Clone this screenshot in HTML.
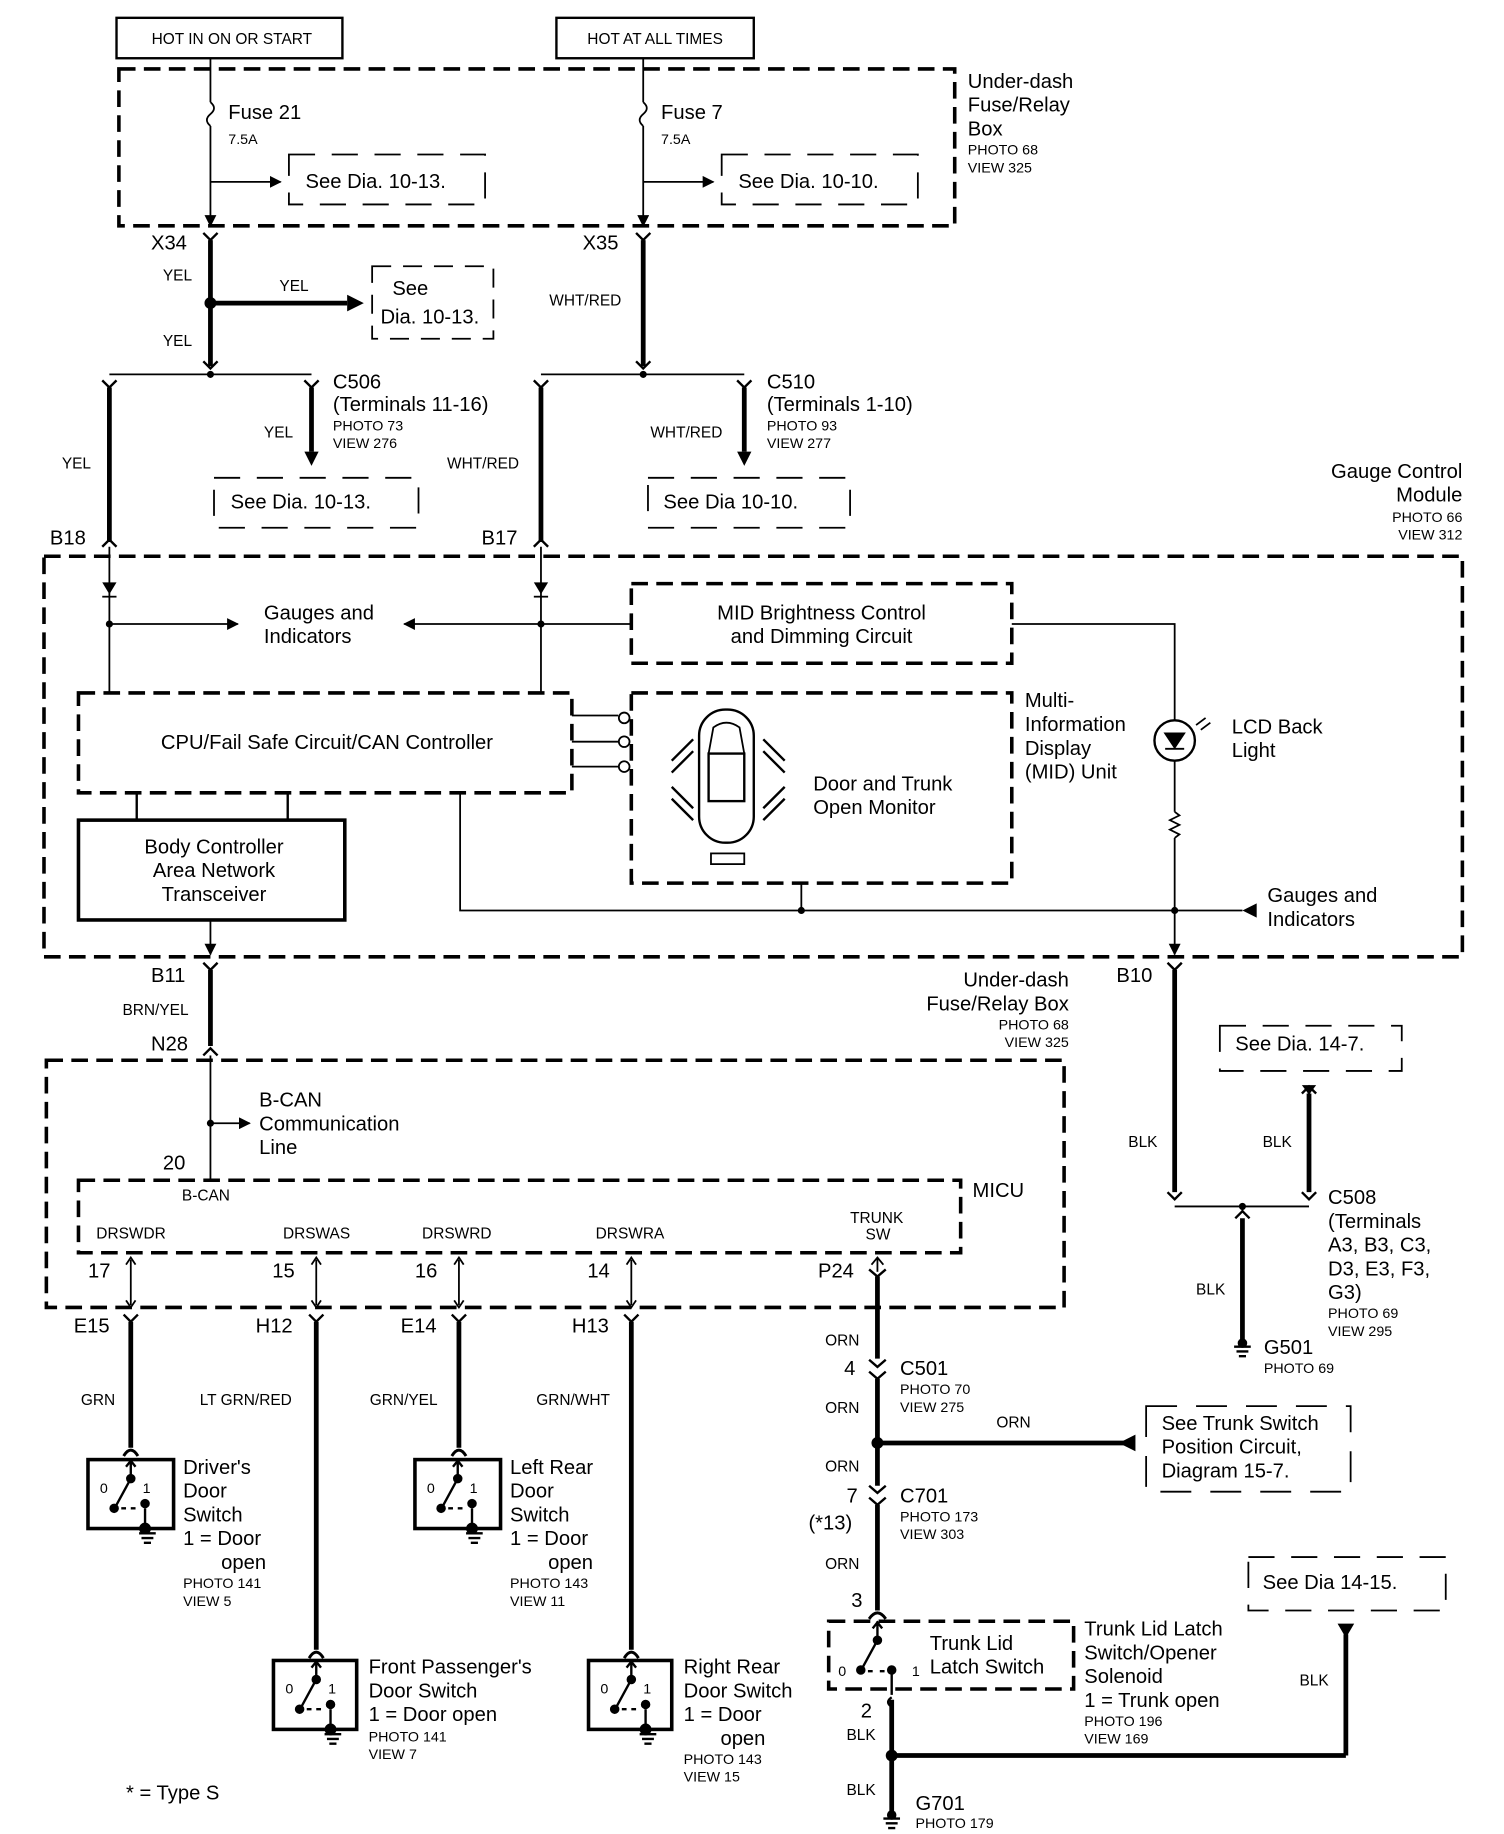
<!DOCTYPE html>
<html><head><style>
html,body{margin:0;padding:0;background:#fff;}
svg{display:block;}
text{font-family:"Liberation Sans",Arial,sans-serif;fill:#000;}
.b{font-size:17px;}
.s{font-size:13px;}
.xs{font-size:12px;}
</style></head><body>
<svg width="1504" height="1834" viewBox="0 0 1265 1543" preserveAspectRatio="none" xmlns="http://www.w3.org/2000/svg">
<defs>
<marker id="ar" markerWidth="10" markerHeight="10" refX="9" refY="5" orient="auto" markerUnits="userSpaceOnUse"><path d="M0,0 L10,5 L0,10z"/></marker>
<marker id="arb" markerWidth="14" markerHeight="14" refX="13" refY="7" orient="auto" markerUnits="userSpaceOnUse"><path d="M0,0 L14,7 L0,14z"/></marker>
</defs>
<g stroke="#000" fill="none" stroke-width="1.5">
<!-- top boxes -->
<rect x="98" y="15" width="190" height="34" stroke-width="2"/>
<rect x="468" y="15" width="166" height="34" stroke-width="2"/>
<rect x="100" y="58" width="703" height="132" stroke-width="3" stroke-dasharray="14,7"/>
<!-- fuse lines -->
<line x1="177" y1="49" x2="177" y2="86"/><path d="M177,86 q6,5 0,10 q-6,5 0,10"/><line x1="177" y1="106" x2="177" y2="190" marker-end="url(#ar)"/>
<line x1="541" y1="49" x2="541" y2="86"/><path d="M541,86 q6,5 0,10 q-6,5 0,10"/><line x1="541" y1="106" x2="541" y2="190" marker-end="url(#ar)"/>
<line x1="177" y1="153" x2="236" y2="153" marker-end="url(#ar)"/>
<line x1="541" y1="153" x2="600" y2="153" marker-end="url(#ar)"/>
<path d="M243,130 h165 v42 h-165z" stroke-dasharray="22,14"/>
<path d="M607,130 h165 v42 h-165z" stroke-dasharray="22,14"/>
<!-- X34/X35 thick -->
<path d="M171,196 l6,6 l6,-6" stroke-width="2"/><path d="M535,196 l6,6 l6,-6" stroke-width="2"/>
<line x1="177" y1="202" x2="177" y2="308" stroke-width="4"/>
<line x1="541" y1="202" x2="541" y2="308" stroke-width="4"/>
<path d="M171,304 l6,6 l6,-6" stroke-width="2"/><path d="M535,304 l6,6 l6,-6" stroke-width="2"/>
<line x1="177" y1="255" x2="292" y2="255" stroke-width="4"/>
<path d="M313,224 h102 v61 h-102z" stroke-dasharray="16,10"/>
<line x1="92" y1="315" x2="262" y2="315"/>
<line x1="455" y1="315" x2="626" y2="315"/>
<path d="M86,320 l6,6 l6,-6" stroke-width="2"/><path d="M256,320 l6,6 l6,-6" stroke-width="2"/>
<path d="M449,320 l6,6 l6,-6" stroke-width="2"/><path d="M620,320 l6,6 l6,-6" stroke-width="2"/>
<line x1="92" y1="326" x2="92" y2="456" stroke-width="4"/>
<line x1="455" y1="326" x2="455" y2="456" stroke-width="4"/>
<line x1="262" y1="326" x2="262" y2="380" stroke-width="4"/>
<line x1="626" y1="326" x2="626" y2="380" stroke-width="4"/>
<path d="M180,402 h172 v42 h-172z" stroke-dasharray="22,14"/>
<path d="M545,402 h170 v42 h-170z" stroke-dasharray="22,14"/>
<path d="M86,460 l6,-6 l6,6" stroke-width="2"/><path d="M449,460 l6,-6 l6,6" stroke-width="2"/>
<!-- gauge module -->
<rect x="37" y="468" width="1193" height="337" stroke-width="3" stroke-dasharray="14,7"/>
<line x1="92" y1="460" x2="92" y2="582"/>
<line x1="455" y1="460" x2="455" y2="582"/>
<line x1="86" y1="502" x2="98" y2="502"/><line x1="449" y1="502" x2="461" y2="502"/>
<line x1="92" y1="525" x2="200" y2="525" marker-end="url(#ar)"/>
<line x1="530" y1="525" x2="340" y2="525" marker-end="url(#ar)"/>
<rect x="531" y="491" width="320" height="67" stroke-width="3" stroke-dasharray="14,7"/>
<rect x="66" y="583" width="415" height="84" stroke-width="3" stroke-dasharray="14,7"/>
<rect x="531" y="583" width="320" height="160" stroke-width="3" stroke-dasharray="14,7"/>
<line x1="481" y1="602" x2="520" y2="602"/><line x1="481" y1="624" x2="520" y2="624"/><line x1="481" y1="645" x2="520" y2="645"/>
<circle cx="525" cy="604" r="4.5"/><circle cx="525" cy="624" r="4.5"/><circle cx="525" cy="645" r="4.5"/>
<rect x="66" y="690" width="224" height="84" stroke-width="3"/>
<line x1="115" y1="667" x2="115" y2="690" stroke-width="2"/><line x1="242" y1="667" x2="242" y2="690" stroke-width="2"/>
<line x1="177" y1="774" x2="177" y2="803" marker-end="url(#ar)"/>
<polyline points="387,667 387,766 1045,766"/>
<line x1="674" y1="743" x2="674" y2="766"/>
<polyline points="851,525 988,525 988,606"/>
<circle cx="988" cy="623" r="17" stroke-width="2"/>
<path d="M980,617 h16 l-8,12z" fill="#000"/><line x1="980" y1="630" x2="996" y2="630"/>
<line x1="988" y1="640" x2="988" y2="683"/>
<path d="M988,683 l4,3 l-8,4 l8,4 l-8,4 l8,4 l-4,3"/>
<line x1="988" y1="705" x2="988" y2="803" marker-end="url(#ar)"/>
<line x1="1060" y1="766" x2="1046" y2="766" stroke-width="0"/>
<!-- car -->
<rect x="588" y="597" width="46" height="112" rx="22" stroke-width="2"/>
<rect x="596" y="634" width="30" height="40" stroke-width="2"/>
<path d="M600,612 q11,-8 22,0 l4,22 h-30z" stroke-width="1.5"/>
<rect x="598" y="718" width="28" height="9" stroke-width="1.5"/>
<path d="M565,640 l18,-18 M565,650 l18,-18 M565,662 l18,18 M565,672 l18,18 M660,640 l-18,-18 M660,650 l-18,-18 M660,662 l-18,18 M660,672 l-18,18" stroke-width="2"/>
<!-- B11 -->
<path d="M171,810 l6,6 l6,-6" stroke-width="2"/>
<line x1="177" y1="816" x2="177" y2="880" stroke-width="4"/>
<path d="M171,888 l6,-6 l6,6" stroke-width="2"/>
<line x1="177" y1="888" x2="177" y2="993"/>
<line x1="177" y1="945" x2="210" y2="945" marker-end="url(#ar)"/>
<rect x="39" y="892" width="856" height="208" stroke-width="3" stroke-dasharray="14,7"/>
<rect x="66" y="993" width="742" height="61" stroke-width="3" stroke-dasharray="14,7"/>
<!-- MICU pins -->
<g>
<line x1="110" y1="1060" x2="110" y2="1098"/><line x1="266" y1="1060" x2="266" y2="1098"/><line x1="386" y1="1060" x2="386" y2="1098"/><line x1="531" y1="1060" x2="531" y2="1098"/>
<path d="M106,1064 l4,-6 l4,6 M106,1094 l4,6 l4,-6 M262,1064 l4,-6 l4,6 M262,1094 l4,6 l4,-6 M382,1064 l4,-6 l4,6 M382,1094 l4,6 l4,-6 M527,1064 l4,-6 l4,6 M527,1094 l4,6 l4,-6"/>
</g>
<path d="M104,1106 l6,6 l6,-6 M260,1106 l6,6 l6,-6 M380,1106 l6,6 l6,-6 M525,1106 l6,6 l6,-6" stroke-width="2"/>
<line x1="110" y1="1112" x2="110" y2="1218" stroke-width="4"/>
<line x1="266" y1="1112" x2="266" y2="1388" stroke-width="4"/>
<line x1="386" y1="1112" x2="386" y2="1218" stroke-width="4"/>
<line x1="531" y1="1112" x2="531" y2="1388" stroke-width="4"/>
<path d="M104,1225 q6,-10 12,0 M260,1395 q6,-10 12,0 M380,1225 q6,-10 12,0 M525,1395 q6,-10 12,0" stroke-width="2.5"/>
<!-- switch boxes -->
<rect x="74" y="1228" width="72" height="58" stroke-width="3"/>
<rect x="349" y="1228" width="72" height="58" stroke-width="3"/>
<rect x="230" y="1397" width="70" height="58" stroke-width="3"/>
<rect x="495" y="1397" width="70" height="58" stroke-width="3"/>
<!-- P24 trunk line -->
<path d="M733,1064 l5,-6 l5,6"/>
<line x1="738" y1="1058" x2="738" y2="1070"/>
<path d="M731,1068 l7,6 l7,-6" stroke-width="2"/>
<line x1="738" y1="1074" x2="738" y2="1143" stroke-width="4"/>
<path d="M731,1144 l7,6 l7,-6 M731,1154 l7,6 l7,-6" stroke-width="2"/>
<line x1="738" y1="1160" x2="738" y2="1250" stroke-width="4"/>
<line x1="738" y1="1214" x2="945" y2="1214" stroke-width="4"/>
<path d="M731,1250 l7,6 l7,-6 M731,1260 l7,6 l7,-6" stroke-width="2"/>
<line x1="738" y1="1266" x2="738" y2="1355" stroke-width="4"/>
<path d="M731,1362 q7,-10 14,0" stroke-width="2.5"/>
<rect x="697" y="1364" width="206" height="57" stroke-width="3" stroke-dasharray="14,7"/>
<path d="M964,1183 h172 v72 h-172z" stroke-dasharray="26,16"/>
<path d="M750,1428 q-6,4 0,8" stroke-width="2"/>
<line x1="750" y1="1430" x2="750" y2="1525" stroke-width="4"/>
<line x1="750" y1="1477" x2="1132" y2="1477" stroke-width="4"/>
<line x1="1132" y1="1477" x2="1132" y2="1375" stroke-width="4"/>
<path d="M1050,1310 h166 v45 h-166z" stroke-dasharray="22,14"/>
<!-- B10 -->
<path d="M982,810 l6,6 l6,-6" stroke-width="2"/>
<line x1="988" y1="816" x2="988" y2="1003" stroke-width="4"/>
<path d="M982,1003 l6,6 l6,-6 M1095,1003 l6,6 l6,-6" stroke-width="2"/>
<line x1="988" y1="1015" x2="1101" y2="1015"/>
<line x1="1101" y1="920" x2="1101" y2="1003" stroke-width="4"/>
<path d="M1095,920 l6,-6 l6,6" stroke-width="2"/>
<path d="M1039,1025 l6,-6 l6,6" stroke-width="2"/>
<line x1="1045" y1="1015" x2="1045" y2="1019"/>
<line x1="1045" y1="1025" x2="1045" y2="1128" stroke-width="4"/>
<path d="M1026,863 h153 v38 h-153z" stroke-dasharray="22,14"/>
<!-- grounds -->
<path d="M1038,1133 h14 M1040,1137 h10 M1042,1141 h6 M743,1530 h14 M745,1534 h10 M747,1538 h6 M117,1290 h14 M119,1294 h10 M121,1298 h6 M392,1290 h14 M394,1294 h10 M396,1298 h6 M273,1459 h14 M275,1463 h10 M277,1467 h6 M538,1459 h14 M540,1463 h10 M542,1467 h6" stroke-width="2"/>
</g>
<!-- filled shapes -->
<g fill="#000">
<circle cx="177" cy="255" r="5"/><path d="M292,248 l14,7 l-14,7z"/>
<path d="M256,380 h12 l-6,12z"/><path d="M620,380 h12 l-6,12z"/>
<circle cx="177" cy="315" r="3"/><circle cx="541" cy="315" r="3"/>
<path d="M86,490 h12 l-6,10z"/><path d="M449,490 h12 l-6,10z"/>
<circle cx="92" cy="525" r="3"/><circle cx="455" cy="525" r="3"/>
<circle cx="674" cy="766" r="3"/><circle cx="988" cy="766" r="3"/>
<path d="M1045,766 l12,-6 v12z"/>
<circle cx="177" cy="945" r="3"/>
<circle cx="738" cy="1214" r="5"/><path d="M955,1207 l-14,7 l14,7z"/>
<circle cx="750" cy="1477" r="5"/><path d="M1125,1366 h14 l-7,12z"/>
<path d="M1095,913 h12 l-6,8z"/>
<circle cx="1045" cy="1015" r="3"/><circle cx="1045" cy="1130" r="4"/><circle cx="750" cy="1527" r="4"/>
</g>
<!-- switch internals -->
<g stroke="#000" fill="none" stroke-width="2">
<g transform="translate(74,1228)"><path d="M36,0 v16 M32,6 l4,-5 l4,5 M36,16 l-12,22 M28,41 h4 M36,41 h4 M48,41 v17"/><circle cx="36" cy="16" r="3" fill="#000"/><circle cx="22" cy="41" r="3" fill="#000"/><circle cx="48" cy="37" r="3" fill="#000"/><circle cx="48" cy="58" r="4" fill="#000"/></g>
<g transform="translate(349,1228)"><path d="M36,0 v16 M32,6 l4,-5 l4,5 M36,16 l-12,22 M28,41 h4 M36,41 h4 M48,41 v17"/><circle cx="36" cy="16" r="3" fill="#000"/><circle cx="22" cy="41" r="3" fill="#000"/><circle cx="48" cy="37" r="3" fill="#000"/><circle cx="48" cy="58" r="4" fill="#000"/></g>
<g transform="translate(230,1397)"><path d="M36,0 v16 M32,6 l4,-5 l4,5 M36,16 l-12,22 M28,41 h4 M36,41 h4 M48,41 v17"/><circle cx="36" cy="16" r="3" fill="#000"/><circle cx="22" cy="41" r="3" fill="#000"/><circle cx="48" cy="37" r="3" fill="#000"/><circle cx="48" cy="58" r="4" fill="#000"/></g>
<g transform="translate(495,1397)"><path d="M36,0 v16 M32,6 l4,-5 l4,5 M36,16 l-12,22 M28,41 h4 M36,41 h4 M48,41 v17"/><circle cx="36" cy="16" r="3" fill="#000"/><circle cx="22" cy="41" r="3" fill="#000"/><circle cx="48" cy="37" r="3" fill="#000"/><circle cx="48" cy="58" r="4" fill="#000"/></g>
<path d="M738,1364 v16 M734,1370 l4,-5 l4,5 M738,1380 l-12,22 M730,1406 h4 M740,1406 h4 M750,1406 v20"/>
<circle cx="738" cy="1380" r="3" fill="#000"/><circle cx="724" cy="1405" r="3" fill="#000"/><circle cx="750" cy="1405" r="3" fill="#000"/>
<path d="M1006,610 l8,-6 M1010,614 l8,-6" stroke-width="1.5"/>
</g>
<!-- text -->
<text x="195" y="37" class="s" text-anchor="middle">HOT IN ON OR START</text>
<text x="551" y="37" class="s" text-anchor="middle">HOT AT ALL TIMES</text>
<text x="814" y="74" class="b">Under-dash</text><text x="814" y="94" class="b">Fuse/Relay</text><text x="814" y="114" class="b">Box</text>
<text x="814" y="130" class="xs">PHOTO 68</text><text x="814" y="145" class="xs">VIEW 325</text>
<text x="192" y="100" class="b">Fuse 21</text><text x="192" y="121" class="xs">7.5A</text>
<text x="556" y="100" class="b">Fuse 7</text><text x="556" y="121" class="xs">7.5A</text>
<text x="257" y="158" class="b">See Dia. 10-13.</text>
<text x="621" y="158" class="b">See Dia. 10-10.</text>
<text x="127" y="210" class="b">X34</text><text x="490" y="210" class="b">X35</text>
<text x="137" y="236" class="s">YEL</text><text x="235" y="245" class="s">YEL</text><text x="137" y="291" class="s">YEL</text>
<text x="462" y="257" class="s">WHT/RED</text>
<text x="330" y="248" class="b">See</text><text x="320" y="272" class="b">Dia. 10-13.</text>
<text x="280" y="327" class="b">C506</text><text x="280" y="346" class="b">(Terminals 11-16)</text>
<text x="280" y="362" class="xs">PHOTO 73</text><text x="280" y="377" class="xs">VIEW 276</text>
<text x="222" y="368" class="s">YEL</text>
<text x="645" y="327" class="b">C510</text><text x="645" y="346" class="b">(Terminals 1-10)</text>
<text x="645" y="362" class="xs">PHOTO 93</text><text x="645" y="377" class="xs">VIEW 277</text>
<text x="547" y="368" class="s">WHT/RED</text>
<text x="52" y="394" class="s">YEL</text><text x="376" y="394" class="s">WHT/RED</text>
<text x="194" y="428" class="b">See Dia. 10-13.</text><text x="558" y="428" class="b">See Dia 10-10.</text>
<text x="1230" y="402" class="b" text-anchor="end">Gauge Control</text><text x="1230" y="422" class="b" text-anchor="end">Module</text>
<text x="1230" y="439" class="xs" text-anchor="end">PHOTO 66</text><text x="1230" y="454" class="xs" text-anchor="end">VIEW 312</text>
<text x="42" y="458" class="b">B18</text><text x="405" y="458" class="b">B17</text>
<text x="222" y="521" class="b">Gauges and</text><text x="222" y="541" class="b">Indicators</text>
<text x="691" y="521" class="b" text-anchor="middle">MID Brightness Control</text><text x="691" y="541" class="b" text-anchor="middle">and Dimming Circuit</text>
<text x="275" y="630" class="b" text-anchor="middle">CPU/Fail Safe Circuit/CAN Controller</text>
<text x="862" y="595" class="b">Multi-</text><text x="862" y="615" class="b">Information</text><text x="862" y="635" class="b">Display</text><text x="862" y="655" class="b">(MID) Unit</text>
<text x="1036" y="617" class="b">LCD Back</text><text x="1036" y="637" class="b">Light</text>
<text x="684" y="665" class="b">Door and Trunk</text><text x="684" y="685" class="b">Open Monitor</text>
<text x="180" y="718" class="b" text-anchor="middle">Body Controller</text><text x="180" y="738" class="b" text-anchor="middle">Area Network</text><text x="180" y="758" class="b" text-anchor="middle">Transceiver</text>
<text x="1066" y="759" class="b">Gauges and</text><text x="1066" y="779" class="b">Indicators</text>
<text x="127" y="826" class="b">B11</text><text x="939" y="826" class="b">B10</text>
<text x="103" y="854" class="s">BRN/YEL</text>
<text x="127" y="884" class="b">N28</text>
<text x="899" y="830" class="b" text-anchor="end">Under-dash</text><text x="899" y="850" class="b" text-anchor="end">Fuse/Relay Box</text>
<text x="899" y="866" class="xs" text-anchor="end">PHOTO 68</text><text x="899" y="881" class="xs" text-anchor="end">VIEW 325</text>
<text x="1039" y="884" class="b">See Dia. 14-7.</text>
<text x="218" y="931" class="b">B-CAN</text><text x="218" y="951" class="b">Communication</text><text x="218" y="971" class="b">Line</text>
<text x="137" y="984" class="b">20</text><text x="153" y="1010" class="s">B-CAN</text>
<text x="818" y="1007" class="b">MICU</text>
<text x="949" y="965" class="s">BLK</text><text x="1062" y="965" class="s">BLK</text>
<text x="1117" y="1013" class="b">C508</text><text x="1117" y="1033" class="b">(Terminals</text><text x="1117" y="1053" class="b">A3, B3, C3,</text><text x="1117" y="1073" class="b">D3, E3, F3,</text><text x="1117" y="1093" class="b">G3)</text>
<text x="1117" y="1109" class="xs">PHOTO 69</text><text x="1117" y="1124" class="xs">VIEW 295</text>
<text x="81" y="1042" class="s">DRSWDR</text><text x="238" y="1042" class="s">DRSWAS</text><text x="355" y="1042" class="s">DRSWRD</text><text x="501" y="1042" class="s">DRSWRA</text>
<text x="715" y="1029" class="s">TRUNK</text><text x="728" y="1043" class="s">SW</text>
<text x="74" y="1075" class="b">17</text><text x="229" y="1075" class="b">15</text><text x="349" y="1075" class="b">16</text><text x="494" y="1075" class="b">14</text><text x="688" y="1075" class="b">P24</text>
<text x="1006" y="1089" class="s">BLK</text>
<text x="62" y="1121" class="b">E15</text><text x="215" y="1121" class="b">H12</text><text x="337" y="1121" class="b">E14</text><text x="481" y="1121" class="b">H13</text>
<text x="694" y="1132" class="s">ORN</text>
<text x="1063" y="1139" class="b">G501</text><text x="1063" y="1155" class="xs">PHOTO 69</text>
<text x="710" y="1157" class="b">4</text><text x="757" y="1157" class="b">C501</text>
<text x="757" y="1173" class="xs">PHOTO 70</text><text x="757" y="1188" class="xs">VIEW 275</text>
<text x="68" y="1182" class="s">GRN</text><text x="168" y="1182" class="s">LT GRN/RED</text><text x="311" y="1182" class="s">GRN/YEL</text><text x="451" y="1182" class="s">GRN/WHT</text>
<text x="694" y="1189" class="s">ORN</text><text x="838" y="1201" class="s">ORN</text>
<text x="977" y="1203" class="b">See Trunk Switch</text><text x="977" y="1223" class="b">Position Circuit,</text><text x="977" y="1243" class="b">Diagram 15-7.</text>
<text x="694" y="1238" class="s">ORN</text>
<text x="154" y="1240" class="b">Driver's</text><text x="154" y="1260" class="b">Door</text><text x="154" y="1280" class="b">Switch</text><text x="154" y="1300" class="b">1 = Door</text><text x="186" y="1320" class="b">open</text>
<text x="154" y="1336" class="xs">PHOTO 141</text><text x="154" y="1351" class="xs">VIEW 5</text>
<text x="429" y="1240" class="b">Left Rear</text><text x="429" y="1260" class="b">Door</text><text x="429" y="1280" class="b">Switch</text><text x="429" y="1300" class="b">1 = Door</text><text x="461" y="1320" class="b">open</text>
<text x="429" y="1336" class="xs">PHOTO 143</text><text x="429" y="1351" class="xs">VIEW 11</text>
<text x="712" y="1264" class="b">7</text><text x="757" y="1264" class="b">C701</text>
<text x="680" y="1287" class="b">(*13)</text>
<text x="757" y="1280" class="xs">PHOTO 173</text><text x="757" y="1295" class="xs">VIEW 303</text>
<text x="694" y="1320" class="s">ORN</text>
<text x="1062" y="1337" class="b">See Dia 14-15.</text>
<text x="716" y="1352" class="b">3</text>
<text x="782" y="1388" class="b">Trunk Lid</text><text x="782" y="1408" class="b">Latch Switch</text>
<text x="705" y="1410" class="xs">0</text><text x="767" y="1410" class="xs">1</text>
<text x="912" y="1376" class="b">Trunk Lid Latch</text><text x="912" y="1396" class="b">Switch/Opener</text><text x="912" y="1416" class="b">Solenoid</text><text x="912" y="1436" class="b">1 = Trunk open</text>
<text x="912" y="1452" class="xs">PHOTO 196</text><text x="912" y="1467" class="xs">VIEW 169</text>
<text x="1093" y="1418" class="s">BLK</text>
<text x="310" y="1408" class="b">Front Passenger's</text><text x="310" y="1428" class="b">Door Switch</text><text x="310" y="1448" class="b">1 = Door open</text>
<text x="310" y="1465" class="xs">PHOTO 141</text><text x="310" y="1480" class="xs">VIEW 7</text>
<text x="575" y="1408" class="b">Right Rear</text><text x="575" y="1428" class="b">Door Switch</text><text x="575" y="1448" class="b">1 = Door</text><text x="606" y="1468" class="b">open</text>
<text x="575" y="1484" class="xs">PHOTO 143</text><text x="575" y="1499" class="xs">VIEW 15</text>
<text x="724" y="1445" class="b">2</text><text x="712" y="1464" class="s">BLK</text>
<text x="712" y="1510" class="s">BLK</text>
<text x="770" y="1523" class="b">G701</text><text x="770" y="1538" class="xs">PHOTO 179</text>
<text x="106" y="1514" class="b">* = Type S</text>
<g class="xs">
<text x="84" y="1256" class="xs">0</text><text x="120" y="1256" class="xs">1</text>
<text x="359" y="1256" class="xs">0</text><text x="395" y="1256" class="xs">1</text>
<text x="240" y="1425" class="xs">0</text><text x="276" y="1425" class="xs">1</text>
<text x="505" y="1425" class="xs">0</text><text x="541" y="1425" class="xs">1</text>
</g>
</svg>
</body></html>
